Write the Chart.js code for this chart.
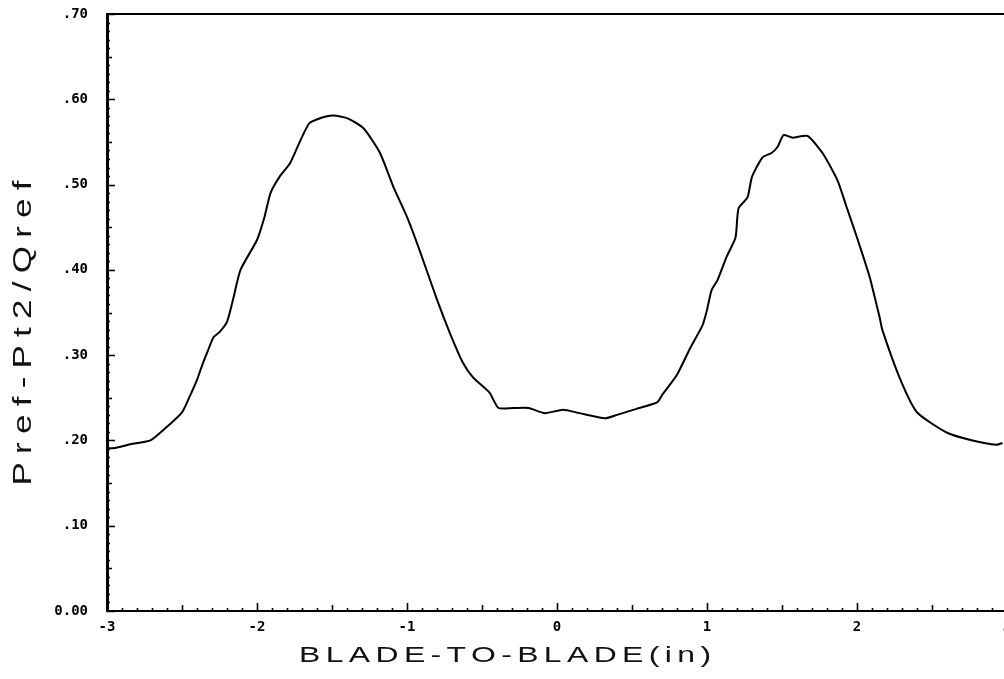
<!DOCTYPE html>
<html>
<head>
<meta charset="utf-8">
<script src="https://cdn.jsdelivr.net/npm/chart.js@4/dist/chart.umd.min.js"></script>
<style>
  html, body { margin: 0; padding: 0; background: #fff; overflow: hidden; }
  #wrap { position: absolute; left: 0; top: 0; width: 1012px; height: 679px; }
</style>
</head>
<body>
<div id="wrap"><canvas id="grafico" width="1012" height="679"></canvas></div>
<script>
// posicion entre alabes (in) y coeficiente de perdida
const posicion = [-3.00, -2.95, -2.83, -2.71, -2.60, -2.50, -2.45, -2.40, -2.37, -2.33,
  -2.29, -2.25, -2.20, -2.16, -2.11, -2.00, -1.95, -1.91, -1.85, -1.78,
  -1.71, -1.65, -1.56, -1.49, -1.40, -1.29, -1.18, -1.09, -1.00, -0.91,
  -0.80, -0.71, -0.63, -0.56, -0.45, -0.39, -0.29, -0.19, -0.08, 0.04,
  0.15, 0.32, 0.40, 0.53, 0.67, 0.70, 0.80, 0.89, 0.97, 1.00,
  1.03, 1.07, 1.13, 1.19, 1.21, 1.27, 1.30, 1.37, 1.43, 1.47,
  1.51, 1.57, 1.67, 1.77, 1.87, 1.93, 2.00, 2.07, 2.09, 2.15,
  2.17, 2.29, 2.40, 2.60, 2.77, 2.93, 2.97];
const perdida = [0.191, 0.191, 0.196, 0.200, 0.216, 0.233, 0.251, 0.271, 0.286, 0.304,
  0.321, 0.327, 0.339, 0.365, 0.400, 0.435, 0.462, 0.490, 0.509, 0.525,
  0.552, 0.572, 0.579, 0.581, 0.578, 0.566, 0.537, 0.497, 0.462, 0.420,
  0.365, 0.324, 0.292, 0.274, 0.256, 0.238, 0.238, 0.238, 0.232, 0.236,
  0.232, 0.226, 0.230, 0.237, 0.245, 0.253, 0.277, 0.309, 0.335, 0.353,
  0.376, 0.388, 0.415, 0.438, 0.472, 0.485, 0.509, 0.532, 0.537, 0.544,
  0.558, 0.555, 0.557, 0.537, 0.505, 0.474, 0.438, 0.400, 0.388, 0.345,
  0.329, 0.271, 0.233, 0.209, 0.200, 0.195, 0.197];

const tituloX = 'BLADE-TO-BLADE(in)';
const tituloY = 'Pref-Pt2/Qref';

// escribe un texto ensanchado (escala horizontal) y espaciado hasta un ancho dado
function textoAncho(ctx, texto, ancho, escala) {
  ctx.letterSpacing = '0px';
  const w = ctx.measureText(texto).width;
  const esp = (ancho / escala - w) / (texto.length - 1);
  ctx.scale(escala, 1);
  ctx.letterSpacing = esp + 'px';
  ctx.fillText(texto, -ancho / escala / 2, 0);
}

// marcas de escala hacia adentro, linea superior y titulos
const marcas = {
  id: 'marcas',
  afterDraw(chart) {
    const { ctx, chartArea: a, scales: { x, y } } = chart;
    ctx.save();
    ctx.strokeStyle = '#000';
    ctx.lineWidth = 2;
    ctx.beginPath();
    ctx.moveTo(a.left, a.top);
    ctx.lineTo(a.right, a.top);
    ctx.stroke();

    ctx.lineWidth = 1.6;
    ctx.beginPath();
    for (let i = -30; i <= 30; i++) {
      const px = Math.round(x.getPixelForValue(i / 10)) + 0.5;
      const largo = i % 10 === 0 ? 8 : (i % 5 === 0 ? 6 : 3);
      ctx.moveTo(px, a.bottom);
      ctx.lineTo(px, a.bottom - largo);
    }
    for (let i = 0; i <= 70; i++) {
      const py = Math.round(y.getPixelForValue(i / 100)) + 0.5;
      const largo = i % 10 === 0 ? 8 : (i % 5 === 0 ? 5 : 3);
      ctx.moveTo(a.left, py);
      ctx.lineTo(a.left + largo, py);
    }
    ctx.stroke();

    // titulos de ejes
    ctx.fillStyle = '#111';
    ctx.textBaseline = 'middle';
    ctx.textAlign = 'left';
    ctx.font = '22px "Liberation Sans"';
    ctx.save();
    ctx.translate(505, 656);
    textoAncho(ctx, tituloX, 412, 1.45);
    ctx.restore();

    ctx.font = '25px "Liberation Sans"';
    ctx.save();
    ctx.translate(24, 333);
    ctx.rotate(-Math.PI / 2);
    textoAncho(ctx, tituloY, 305, 1.4);
    ctx.restore();
    ctx.restore();
  }
};

const ctx = document.getElementById('grafico').getContext('2d');

new Chart(ctx, {
  type: 'line',
  data: {
    datasets: [{
      data: posicion.map((p, i) => ({ x: p, y: perdida[i] })),
      borderColor: '#000',
      borderWidth: 2,
      pointRadius: 0,
      tension: 0.2,
      fill: false
    }]
  },
  options: {
    responsive: false,
    animation: false,
    events: [],
    layout: { padding: { top: 14, right: 5, left: 0, bottom: 0 } },
    plugins: { legend: { display: false }, tooltip: { enabled: false } },
    scales: {
      x: {
        type: 'linear',
        min: -3,
        max: 3,
        afterFit(s) { s.height = 68; s.paddingLeft = 0; s.paddingRight = 0; },
        grid: { display: false, drawTicks: false },
        border: { display: true, color: '#000', width: 2 },
        ticks: {
          stepSize: 1,
          padding: 8,
          color: '#000',
          maxRotation: 0,
          font: { family: '"DejaVu Sans Mono"', size: 14, weight: 'bold' },
          callback: v => String(Math.round(v))
        }
      },
      y: {
        min: 0,
        max: 0.7,
        afterFit(s) { s.width = 107; s.paddingTop = 0; s.paddingBottom = 0; },
        grid: { display: false, drawTicks: false },
        border: { display: true, color: '#000', width: 3 },
        ticks: {
          stepSize: 0.1,
          padding: 19,
          color: '#000',
          font: { family: '"DejaVu Sans Mono"', size: 14, weight: 'bold' },
          callback: v => {
            const n = Math.round(v * 100);
            return n === 0 ? '0.00' : '.' + String(n).padStart(2, '0');
          }
        }
      }
    }
  },
  plugins: [marcas]
});
</script>
</body>
</html>
